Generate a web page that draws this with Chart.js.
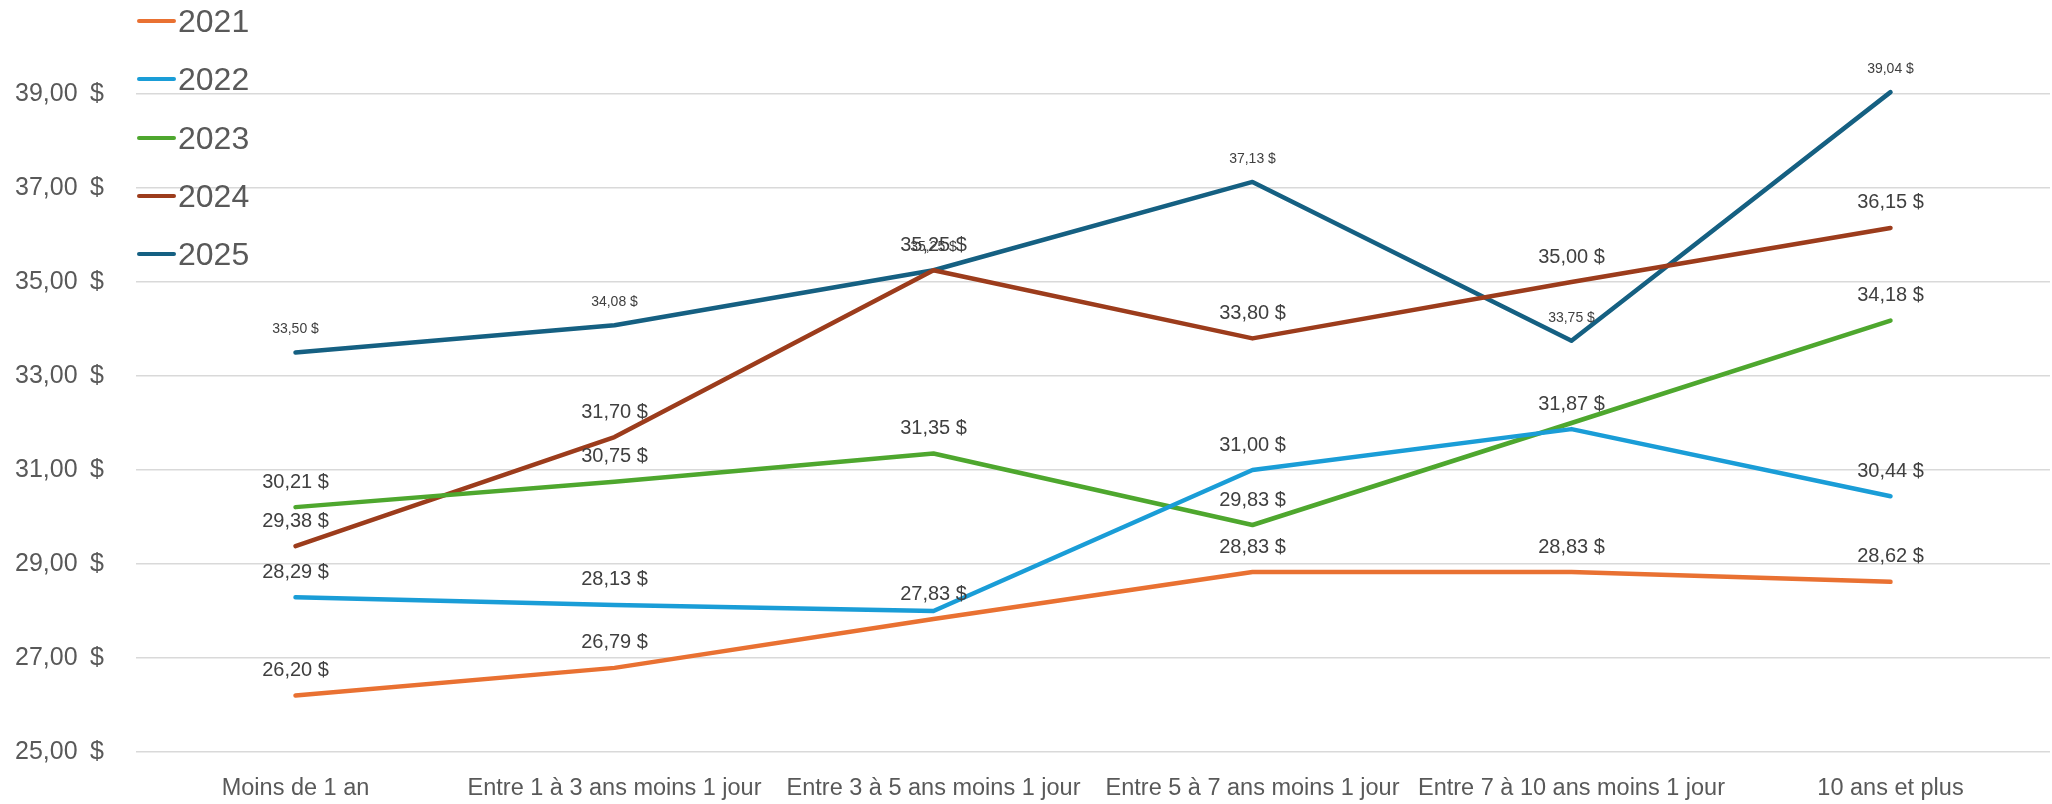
<!DOCTYPE html>
<html lang="fr">
<head>
<meta charset="utf-8">
<title>Taux horaire moyen par ancienneté</title>
<script src="https://cdn.jsdelivr.net/npm/chart.js@4.4.1/dist/chart.umd.min.js"></script>
<style>
    html, body { margin: 0; padding: 0; background: #fff; }
    #wrap { position: relative; width: 2052px; height: 804px; }
    #legend { position: absolute; left: 137px; top: 0; font-family: "Liberation Sans", Arial, sans-serif; }
    .leg-item { position: absolute; left: 0; height: 36px; white-space: nowrap; }
    .leg-line { position: absolute; left: 0; top: 16px; width: 39px; height: 4px; border-radius: 2px; }
    .leg-text { position: absolute; left: 41px; top: 0; font-size: 32px; line-height: 36px; color: #595959; }
</style>
</head>
<body>
<div id="wrap">
    <canvas id="chart"></canvas>
    <div id="legend"></div>
</div>
<script>
// catégories d'ancienneté
const categories = [
    'Moins de 1 an',
    'Entre 1 à 3 ans moins 1 jour',
    'Entre 3 à 5 ans moins 1 jour',
    'Entre 5 à 7 ans moins 1 jour',
    'Entre 7 à 10 ans moins 1 jour',
    '10 ans et plus'
];

// taux par année
const v2021 = [26.20, 26.79, 27.83, 28.83, 28.83, 28.62];
const v2022 = [28.29, 28.13, 28.00, 31.00, 31.87, 30.44];
const v2023 = [30.21, 30.75, 31.35, 29.83, 32.00, 34.18];
const v2024 = [29.38, 31.70, 35.25, 33.80, 35.00, 36.15];
const v2025 = [33.50, 34.08, 35.25, 37.13, 33.75, 39.04];

// étiquettes absentes du graphique d'origine (index de catégorie)
const noLabel2022 = [2];
const noLabel2023 = [4];

// graduations de l'axe vertical
const yTicks = [25, 27, 29, 31, 33, 35, 37, 39];

function toMoney(v, sep) {
    return v.toFixed(2).replace('.', ',') + (sep || ' ') + '$';
}

// étiquettes de données au-dessus des points
const pointLabels = {
    id: 'pointLabels',
    afterDatasetsDraw(chart) {
        const ctx = chart.ctx;
        ctx.save();
        ctx.textAlign = 'center';
        ctx.textBaseline = 'middle';
        ctx.fillStyle = '#404040';
        chart.data.datasets.forEach((ds, i) => {
            const meta = chart.getDatasetMeta(i);
            ctx.font = ds.labelSize + 'px "Liberation Sans", Arial, sans-serif';
            meta.data.forEach((pt, j) => {
                if ((ds.hideLabels || []).includes(j)) return;
                ctx.fillText(toMoney(ds.data[j]), pt.x, pt.y - ds.labelGap);
            });
        });
        ctx.restore();
    }
};

function serie(label, data, color, labelSize, labelGap, hideLabels) {
    return {
        label: label,
        data: data,
        borderColor: color,
        backgroundColor: color,
        borderWidth: 4.5,
        borderCapStyle: 'round',
        borderJoinStyle: 'round',
        pointRadius: 0,
        pointHoverRadius: 0,
        tension: 0,
        fill: false,
        labelSize: labelSize,
        labelGap: labelGap,
        hideLabels: hideLabels
    };
}

const chart = new Chart(document.getElementById('chart'), {
    type: 'line',
    data: {
        labels: categories,
        datasets: [
            serie('2021', v2021, '#E97132', 20, 25),
            serie('2022', v2022, '#1A9DD7', 20, 25, noLabel2022),
            serie('2023', v2023, '#4EA72E', 20, 25, noLabel2023),
            serie('2024', v2024, '#9C3C1C', 20, 25),
            serie('2025', v2025, '#156082', 14, 23)
        ]
    },
    options: {
        responsive: true,
        maintainAspectRatio: false,
        devicePixelRatio: 1,
        animation: false,
        layout: { padding: { top: 44, right: 2, bottom: 0, left: 0 } },
        plugins: {
            legend: { display: false },
            tooltip: { enabled: false }
        },
        scales: {
            x: {
                offset: true,
                grid: { display: false },
                border: { display: false },
                ticks: {
                    color: '#595959',
                    font: { family: '"Liberation Sans", Arial, sans-serif', size: 23.5 },
                    padding: 14,
                    maxRotation: 0,
                    autoSkip: false
                },
                afterFit: s => { s.height = 52; }
            },
            y: {
                min: 25,
                max: 40,
                afterBuildTicks: s => { s.ticks = yTicks.map(v => ({ value: v })); },
                grid: { color: '#D9D9D9', lineWidth: 1.5, drawTicks: false },
                border: { display: false },
                ticks: {
                    color: '#595959',
                    font: { family: '"Liberation Sans", Arial, sans-serif', size: 25 },
                    padding: 32,
                    callback: v => toMoney(v, '\u2002')
                },
                afterFit: s => { s.width = 136; }
            }
        }
    },
    plugins: [pointLabels]
});

// légende placée dans le coin supérieur gauche
const legend = document.getElementById('legend');
chart.data.datasets.forEach((ds, i) => {
    const item = document.createElement('div');
    item.className = 'leg-item';
    item.style.top = (3 + i * 58.3) + 'px';
    item.innerHTML = `<span class="leg-line" style="background:${ds.borderColor}"></span><span class="leg-text">${ds.label}</span>`;
    legend.appendChild(item);
});
</script>
</body>
</html>
